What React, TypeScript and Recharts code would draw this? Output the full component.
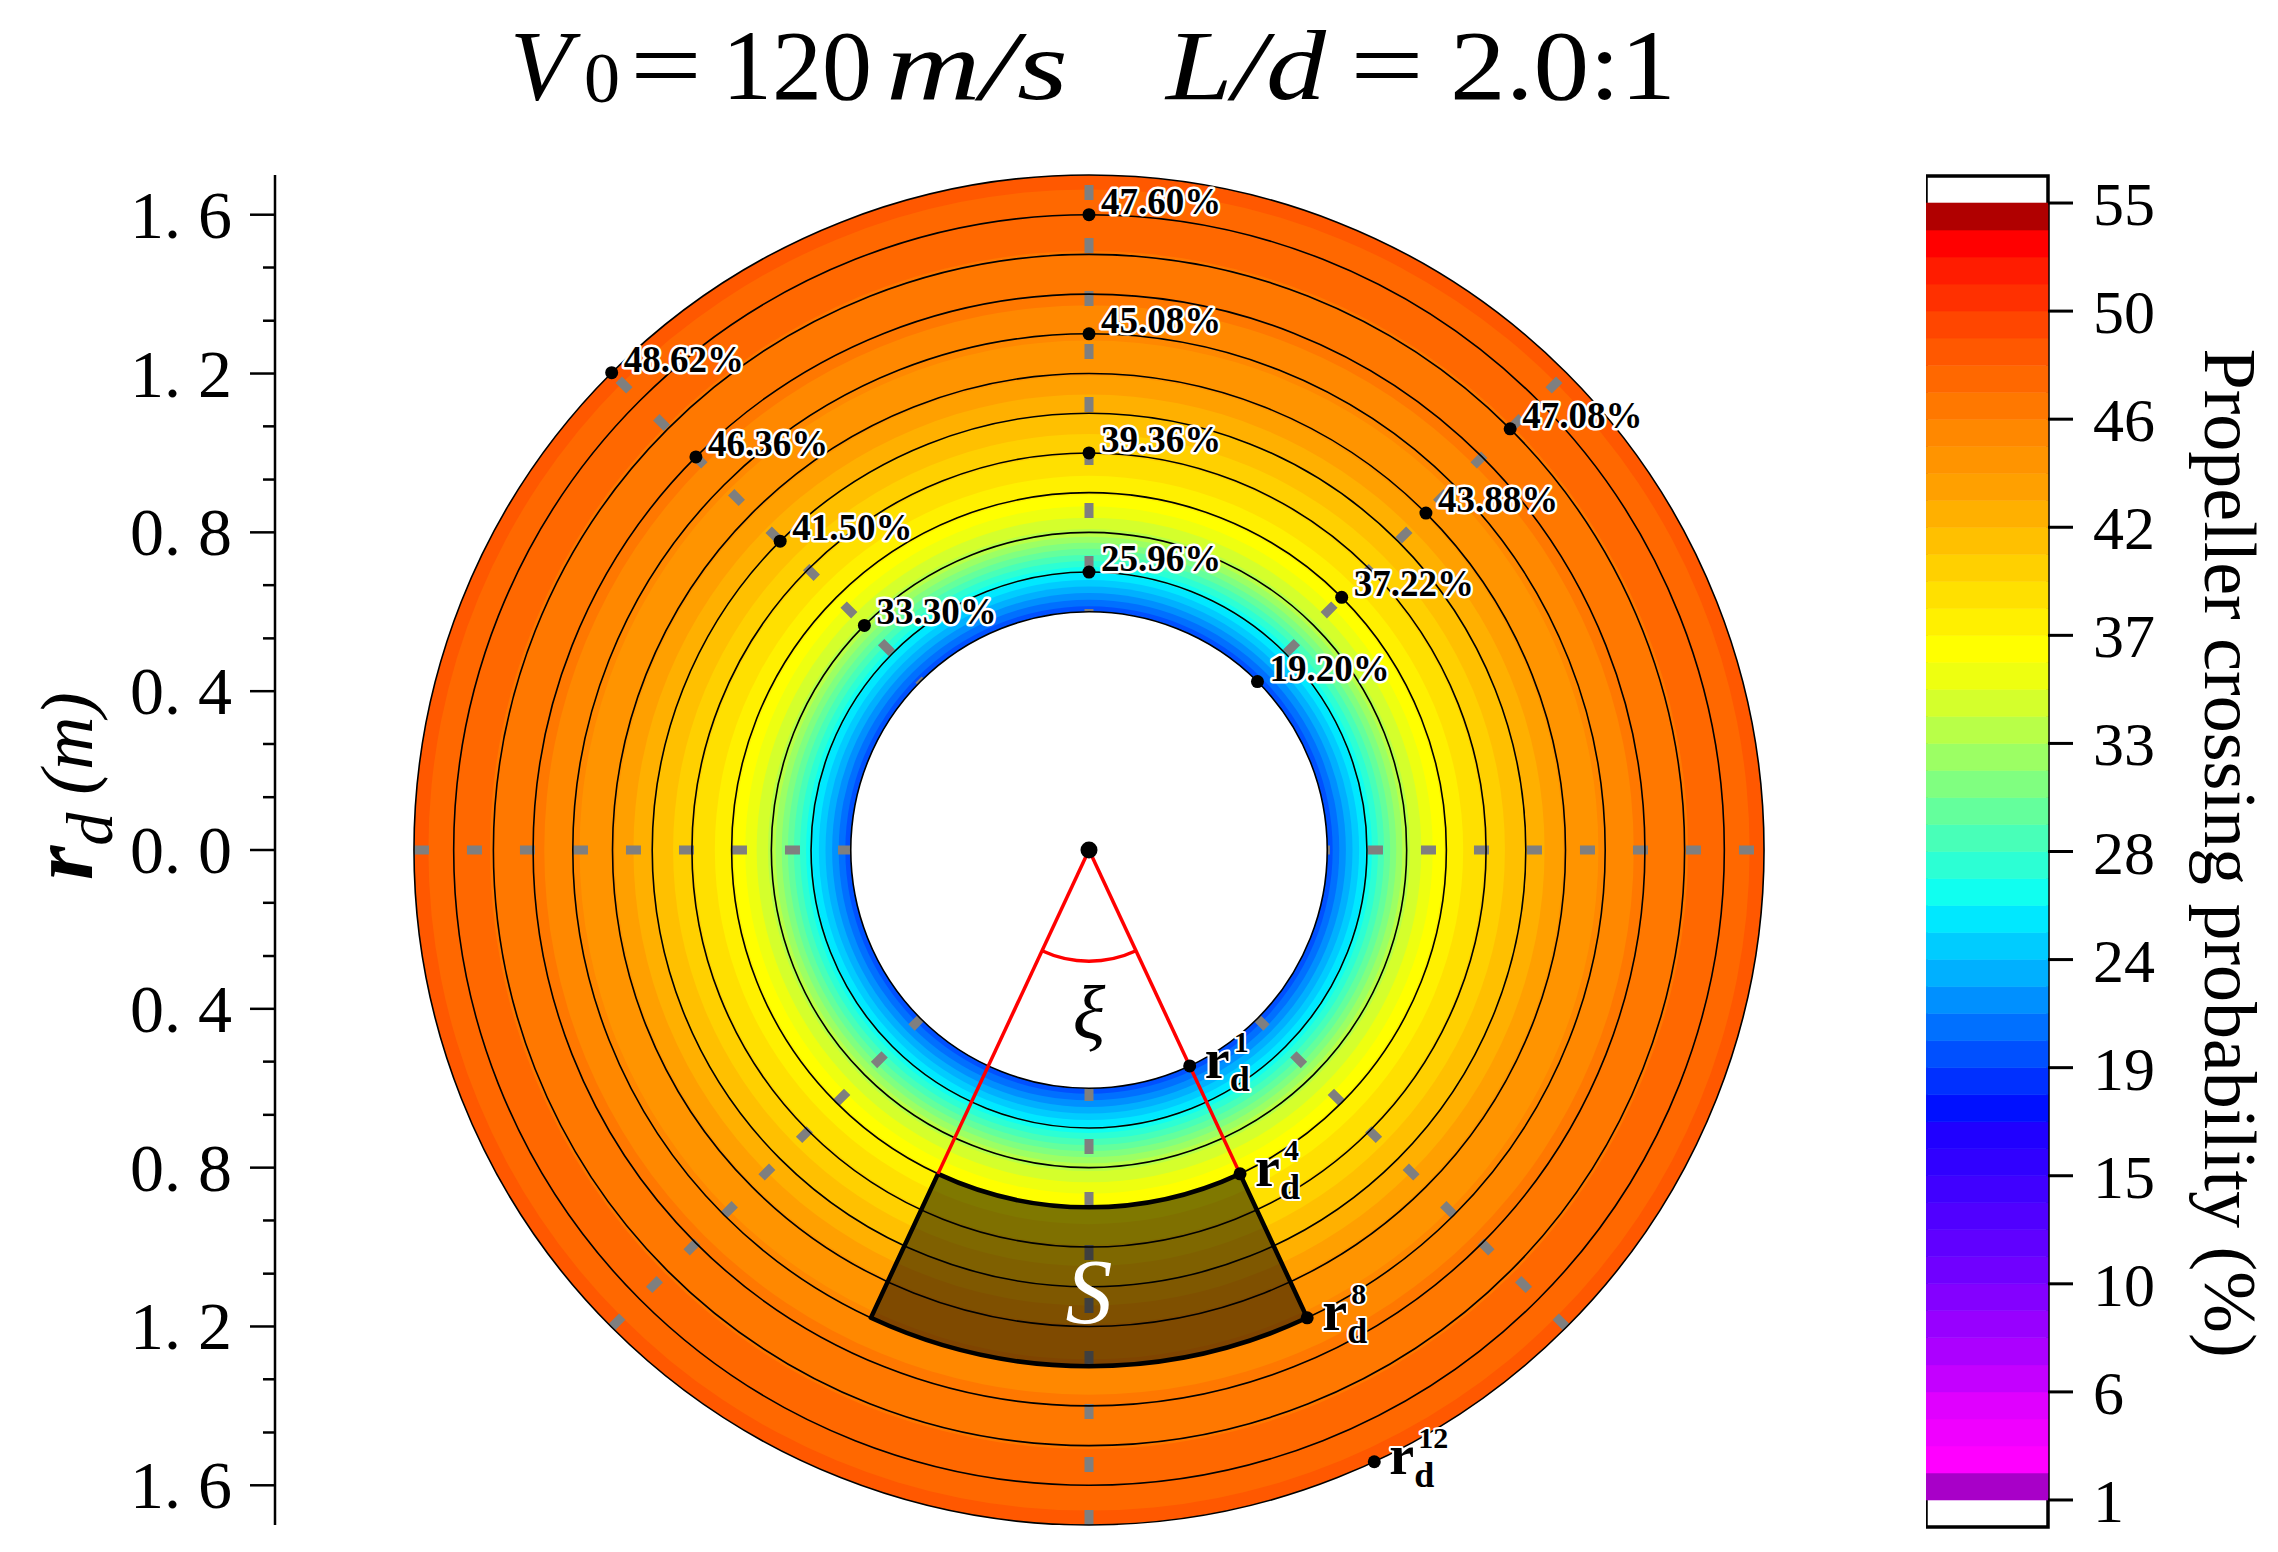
import React from 'react'
import {
  ComposedChart,
  XAxis,
  YAxis,
  Scatter,
  Bar,
  ReferenceArea,
  ReferenceLine,
} from 'recharts'

const SERIF = '"Liberation Serif", "Times New Roman", Times, serif'

// probability (%) read at each drawn circle r_d^1 ... r_d^12 (radius in m)
const RADII = [0.6, 0.7, 0.8, 0.9, 1.0, 1.1, 1.2, 1.3, 1.4, 1.5, 1.6, 1.7]
const PROBABILITY = [19.2, 25.96, 33.3, 37.22, 39.36, 41.5, 43.88, 45.08, 46.36, 47.08, 47.6, 48.62]
// direction (deg, counter-clockwise from +x) of the labelled dot on each circle
const LABEL_ANGLES = [45, 90, 135, 45, 90, 135, 45, 90, 135, 45, 90, 135]

const RD_MARKS = [1, 4, 8, 12]
const RD_ANGLE = -65
const XI_HALF = 25
const SECTOR_RADII = [0.9, 1.3]
const XI_ARC_RADIUS = 0.28
const GRID_ANGLES = [0, 45, 90, 135]
const OUTER = 1.7

const Y_MAJOR = [1.6, 1.2, 0.8, 0.4, 0, -0.4, -0.8, -1.2, -1.6]
const Y_MINOR = [
  1.467, 1.333, 1.067, 0.933, 0.667, 0.533, 0.267, 0.133,
  -0.133, -0.267, -0.533, -0.667, -0.933, -1.067, -1.333, -1.467,
]

// contour levels: 1 .. 55 in 48 bands
const LEVEL_START = 1
const LEVEL_STEP = 1.125
const LEVEL_COLORS = [
  '#A800C8', '#FF00FF', '#F000FF', '#E000FF', '#C400FF', '#AC00FF', '#9800FF', '#8400FF',
  '#7000FF', '#6000FF', '#5000FF', '#4000FF', '#3000FF', '#2000FF', '#0010FF', '#0030FF',
  '#0050FF', '#0070FF', '#0090FF', '#00B0FF', '#00CCFF', '#00E8FF', '#10FFF0', '#2CFFD4',
  '#48FFB8', '#64FF9C', '#80FF80', '#9CFF64', '#B8FF48', '#D4FF2C', '#EEFF10', '#FFFF00',
  '#FFF000', '#FFE000', '#FFD000', '#FFC000', '#FFB000', '#FFA000', '#FF9400', '#FF8800',
  '#FF7800', '#FF6800', '#FF5800', '#FF4600', '#FF3000', '#FF1C00', '#FF0000', '#B00000',
]

const CB_TICKS = [1, 5.5, 10, 14.5, 19, 23.5, 28, 32.5, 37, 41.5, 46, 50.5, 55]
const CB_LABELS = ['1', '6', '10', '15', '19', '24', '28', '33', '37', '42', '46', '50', '55']

const rad = (d: number) => (d * Math.PI) / 180
const polar = (r: number, deg: number) => ({ x: r * Math.cos(rad(deg)), y: r * Math.sin(rad(deg)) })
const levelAt = (k: number) => LEVEL_START + k * LEVEL_STEP

// radius where the radial profile crosses a contour level
function radiusForLevel(v: number) {
  for (let i = 0; i < RADII.length - 1; i++) {
    const a = PROBABILITY[i]
    const b = PROBABILITY[i + 1]
    if (v >= a && v <= b) return RADII[i] + ((v - a) / (b - a)) * (RADII[i + 1] - RADII[i])
  }
  return v < PROBABILITY[0] ? RADII[0] : RADII[RADII.length - 1]
}

type Ring = { r: number; color: string }

function buildRings(): Ring[] {
  const pMin = PROBABILITY[0]
  const pMax = PROBABILITY[PROBABILITY.length - 1]
  const rings: Ring[] = []
  LEVEL_COLORS.forEach((color, k) => {
    const lo = levelAt(k)
    const hi = levelAt(k + 1)
    if (hi <= pMin || lo >= pMax) return
    rings.push({ r: hi >= pMax ? RADII[RADII.length - 1] : radiusForLevel(hi), color })
  })
  return rings.reverse()
}

const RINGS = buildRings()

const VALUE_POINTS = RADII.map((r, i) => ({
  ...polar(r, LABEL_ANGLES[i]),
  label: `${PROBABILITY[i].toFixed(2)}%`,
}))
const RD_POINTS = RD_MARKS.map((n) => ({ ...polar(RADII[n - 1], RD_ANGLE), n }))
const CENTER_POINT = [{ x: 0, y: 0 }]
const NOTES = [
  { x: 0, y: -0.41, text: 'ξ', size: 76, color: '#000' },
  { x: 0, y: -1.11, text: 'S', size: 94, color: '#fff' },
]

// one stacked column: blank up to the first level, then one segment per band
const CB_ROW = [
  Object.fromEntries([
    ['name', 'cb'],
    ['base', LEVEL_START],
    ...LEVEL_COLORS.map((_, k) => [`b${k}`, LEVEL_STEP]),
  ]),
]

const discShape = (fill: string, stroke = 'none', strokeWidth = 0) => (p: any) => (
  <ellipse
    cx={p.x + p.width / 2}
    cy={p.y + p.height / 2}
    rx={Math.abs(p.width) / 2}
    ry={Math.abs(p.height) / 2}
    fill={fill}
    stroke={stroke}
    strokeWidth={strokeWidth}
  />
)

function sectorShape(p: any) {
  const cx = p.x + p.width / 2
  const cy = p.y + p.height / 2
  const k = p.width / (2 * SECTOR_RADII[1])
  const ro = SECTOR_RADII[1] * k
  const ri = SECTOR_RADII[0] * k
  const a1 = rad(-90 - XI_HALF)
  const a2 = rad(-90 + XI_HALF)
  const pt = (r: number, a: number) => `${cx + r * Math.cos(a)},${cy - r * Math.sin(a)}`
  const d = `M${pt(ri, a1)} L${pt(ro, a1)} A${ro},${ro} 0 0 0 ${pt(ro, a2)} L${pt(ri, a2)} A${ri},${ri} 0 0 1 ${pt(ri, a1)} Z`
  return <path d={d} fill="rgba(0,0,0,0.5)" stroke="#000" strokeWidth={4.5} strokeLinejoin="round" />
}

function xiArcShape(p: any) {
  const cx = p.x + p.width / 2
  const cy = p.y + p.height / 2
  const r = p.width / 2
  const a1 = rad(-90 - XI_HALF)
  const a2 = rad(-90 + XI_HALF)
  const pt = (a: number) => `${cx + r * Math.cos(a)},${cy - r * Math.sin(a)}`
  return <path d={`M${pt(a1)} A${r},${r} 0 0 0 ${pt(a2)}`} fill="none" stroke="#FF0000" strokeWidth={3.5} />
}

const haloText = { stroke: '#fff', paintOrder: 'stroke' as const, strokeLinejoin: 'round' as const }

function valueDot(p: any) {
  return (
    <g>
      <circle cx={p.cx} cy={p.cy} r={6.5} fill="#000" />
      <text
        x={p.cx + 12}
        y={p.cy - 1}
        fontFamily={SERIF}
        fontWeight="bold"
        fontSize={37}
        fill="#000"
        strokeWidth={5}
        {...haloText}
      >
        {p.payload.label}
      </text>
    </g>
  )
}

function rdDot(p: any) {
  const t = { fontFamily: SERIF, fontWeight: 'bold', fill: '#000', strokeWidth: 4, ...haloText }
  return (
    <g>
      <circle cx={p.cx} cy={p.cy} r={6.5} fill="#000" />
      <text x={p.cx + 15} y={p.cy + 12} fontSize={56} {...t}>r</text>
      <text x={p.cx + 40} y={p.cy + 25} fontSize={36} {...t}>d</text>
      <text x={p.cx + 44} y={p.cy - 14} fontSize={30} {...t}>{p.payload.n}</text>
    </g>
  )
}

const centerDot = (p: any) => <circle cx={p.cx} cy={p.cy} r={8.5} fill="#000" />

const noteShape = (p: any) => (
  <text
    x={p.cx}
    y={p.cy}
    textAnchor="middle"
    dominantBaseline="central"
    fontFamily={SERIF}
    fontStyle="italic"
    fontSize={p.payload.size}
    fill={p.payload.color}
  >
    {p.payload.text}
  </text>
)

function renderYTick(p: any) {
  const v = p.payload.value as number
  const major = Y_MAJOR.some((m) => Math.abs(m - v) < 1e-6)
  if (!major) {
    return <line x1={p.x - 12} x2={p.x} y1={p.y} y2={p.y} stroke="#000" strokeWidth={2.5} />
  }
  return (
    <g>
      <line x1={p.x - 25} x2={p.x} y1={p.y} y2={p.y} stroke="#000" strokeWidth={2.5} />
      <text
        x={p.x - 43}
        y={p.y}
        textAnchor="end"
        dominantBaseline="central"
        fontFamily={SERIF}
        fontSize={68}
        fill="#000"
      >
        {Math.abs(v).toFixed(1).replace('.', '. ')}
      </text>
    </g>
  )
}

function PolarContour() {
  let z = 10
  return (
    <ComposedChart width={1940} height={1552} margin={{ top: 175, right: 37, bottom: 27, left: 75 }}>
      <XAxis type="number" dataKey="x" domain={[-2.05, 2.05]} allowDataOverflow hide />
      <YAxis
        type="number"
        dataKey="y"
        domain={[-OUTER, OUTER]}
        allowDataOverflow
        width={200}
        ticks={[...Y_MAJOR, ...Y_MINOR]}
        interval={0}
        tickSize={0}
        tickMargin={0}
        tickLine={false}
        axisLine={{ stroke: '#000', strokeWidth: 2.5 }}
        tick={renderYTick}
      />

      {RINGS.map((ring, i) => (
        <ReferenceArea
          key={`ring-${i}`}
          x1={-ring.r}
          x2={ring.r}
          y1={-ring.r}
          y2={ring.r}
          ifOverflow="visible"
          zIndex={z++}
          shape={discShape(ring.color)}
        />
      ))}

      {GRID_ANGLES.map((a) => (
        <ReferenceLine
          key={`grid-${a}`}
          segment={[polar(OUTER, a + 180), polar(OUTER, a)]}
          stroke="#7f7f7f"
          strokeWidth={9}
          strokeDasharray="15 38"
          ifOverflow="visible"
          zIndex={z++}
        />
      ))}

      <ReferenceArea
        x1={-RADII[0]}
        x2={RADII[0]}
        y1={-RADII[0]}
        y2={RADII[0]}
        ifOverflow="visible"
        zIndex={z++}
        shape={discShape('#fff')}
      />

      {RADII.map((r) => (
        <ReferenceArea
          key={`circle-${r}`}
          x1={-r}
          x2={r}
          y1={-r}
          y2={r}
          ifOverflow="visible"
          zIndex={z++}
          shape={discShape('none', '#000', 1.6)}
        />
      ))}

      <ReferenceArea
        x1={-SECTOR_RADII[1]}
        x2={SECTOR_RADII[1]}
        y1={-SECTOR_RADII[1]}
        y2={SECTOR_RADII[1]}
        ifOverflow="visible"
        zIndex={z++}
        shape={sectorShape}
      />

      {[-90 - XI_HALF, -90 + XI_HALF].map((a) => (
        <ReferenceLine
          key={`xi-${a}`}
          segment={[{ x: 0, y: 0 }, polar(SECTOR_RADII[0], a)]}
          stroke="#FF0000"
          strokeWidth={3.5}
          ifOverflow="visible"
          zIndex={z++}
        />
      ))}

      <ReferenceArea
        x1={-XI_ARC_RADIUS}
        x2={XI_ARC_RADIUS}
        y1={-XI_ARC_RADIUS}
        y2={XI_ARC_RADIUS}
        ifOverflow="visible"
        zIndex={z++}
        shape={xiArcShape}
      />

      <Scatter data={NOTES} shape={noteShape} isAnimationActive={false} zIndex={z++} />
      <Scatter data={CENTER_POINT} shape={centerDot} isAnimationActive={false} zIndex={z++} />
      <Scatter data={RD_POINTS} shape={rdDot} isAnimationActive={false} zIndex={z++} />
      <Scatter data={VALUE_POINTS} shape={valueDot} isAnimationActive={false} zIndex={z++} />
    </ComposedChart>
  )
}

function ColorBar() {
  const lo = levelAt(-1)
  const hi = levelAt(LEVEL_COLORS.length + 1)
  return (
    <ComposedChart
      width={352}
      height={1552}
      data={CB_ROW}
      barCategoryGap={0}
      barGap={0}
      margin={{ top: 176, right: 80, bottom: 25, left: 0 }}
    >
      <XAxis type="category" dataKey="name" hide />
      <YAxis
        type="number"
        orientation="right"
        domain={[lo, hi]}
        allowDataOverflow
        width={150}
        ticks={CB_TICKS}
        interval={0}
        tickSize={25}
        tickMargin={20}
        axisLine={false}
        tickLine={{ stroke: '#000', strokeWidth: 3 }}
        tick={{ fontSize: 62, fill: '#000', fontFamily: SERIF }}
        tickFormatter={(v: number) => CB_LABELS[CB_TICKS.indexOf(v)] ?? String(v)}
      />
      <Bar dataKey="base" stackId="cb" fill="none" isAnimationActive={false} />
      {LEVEL_COLORS.map((c, k) => (
        <Bar
          key={`cb-${k}`}
          dataKey={`b${k}`}
          stackId="cb"
          fill={c}
          stroke={c}
          strokeWidth={0.6}
          isAnimationActive={false}
        />
      ))}
      <ReferenceArea y1={lo} y2={hi} fill="none" stroke="#000" strokeWidth={3.5} ifOverflow="visible" />
    </ComposedChart>
  )
}

function Captions() {
  const t = { fontFamily: SERIF, fill: '#000' }
  const fit = 'spacingAndGlyphs'
  return (
    <svg width={2278} height={1552} style={{ position: 'absolute', left: 0, top: 0, pointerEvents: 'none' }}>
      <g {...t} fontSize={100}>
        <text x={510} y={99} fontStyle="italic">V</text>
        <text x={584} y={102} fontSize={72}>0</text>
        <text x={630} y={99} textLength={72} lengthAdjust={fit}>=</text>
        <text x={722} y={99}>120</text>
        <text x={886} y={99} fontStyle="italic" textLength={182} lengthAdjust={fit}>m/s</text>
        <text x={1166} y={99} fontStyle="italic" textLength={160} lengthAdjust={fit}>L/d</text>
        <text x={1350} y={99} textLength={74} lengthAdjust={fit}>=</text>
        <text x={1450} y={99} textLength={226} lengthAdjust={fit}>2.0:1</text>
      </g>
      <text transform="translate(92, 786) rotate(-90)" textAnchor="middle" {...t}>
        <tspan fontSize={88} fontWeight="bold" fontStyle="italic">r</tspan>
        <tspan fontSize={66} fontStyle="italic" dy={20}>d</tspan>
        <tspan fontSize={74} fontStyle="italic" dy={-20} dx={18}>(m)</tspan>
      </text>
      <text
        transform="translate(2230, 853) rotate(90)"
        textAnchor="middle"
        dominantBaseline="central"
        fontSize={74}
        {...t}
      >
        Propeller crossing probability (%)
      </text>
    </svg>
  )
}

export default function App() {
  return (
    <div style={{ position: 'absolute', left: 0, top: 0, width: 2278, height: 1552, background: '#fff' }}>
      <div style={{ position: 'absolute', left: 0, top: 0 }}>
        <PolarContour />
      </div>
      <div style={{ position: 'absolute', left: 1926, top: 0 }}>
        <ColorBar />
      </div>
      <Captions />
    </div>
  )
}
